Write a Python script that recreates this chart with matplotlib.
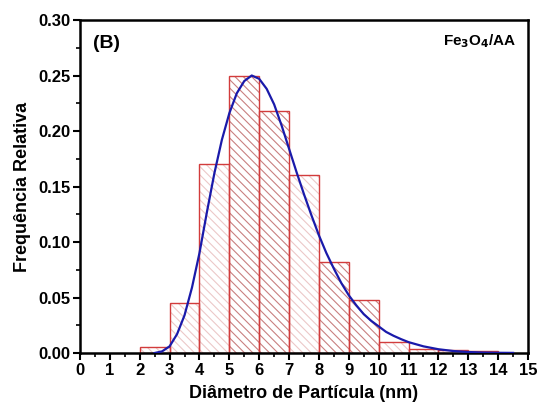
import matplotlib.pyplot as plt

plt.rcParams['font.family'] = ['Liberation Sans', 'DejaVu Sans']
plt.rcParams['font.weight'] = 'bold'

# histogram bins (left edges, width 1 nm) and relative frequencies
bin_left = [2, 3, 4, 5, 6, 7, 8, 9, 10, 11, 12, 13]
freq = [0.005, 0.045, 0.170, 0.250, 0.218, 0.160, 0.082, 0.048, 0.010, 0.004, 0.003, 0.0015]
dense = [False, False, False, True, True, False, True, True, False, False, False, False]

# fitted log-normal curve
fit_x = [2.5, 2.75, 3.0, 3.25, 3.5, 3.75, 4.0, 4.25, 4.5, 4.75, 5.0, 5.25, 5.5, 5.75,
         6.0, 6.25, 6.5, 6.75, 7.0, 7.25, 7.5, 7.75, 8.0, 8.25, 8.5, 8.75, 9.0, 9.25,
         9.5, 9.75, 10.0, 10.25, 10.5, 10.75, 11.0, 11.5, 12.0, 12.5, 13.0, 13.5, 14.0, 14.5]
fit_y = [0.0, 0.0015, 0.006, 0.017, 0.034, 0.059, 0.090, 0.127, 0.162, 0.192, 0.216, 0.234,
         0.245, 0.250, 0.247, 0.238, 0.224, 0.205, 0.184, 0.163, 0.143, 0.124, 0.106, 0.090,
         0.076, 0.063, 0.052, 0.043, 0.035, 0.029, 0.024, 0.019, 0.0155, 0.0125, 0.0098,
         0.0060, 0.0034, 0.0018, 0.0009, 0.0004, 0.0002, 0.0001]

fig = plt.figure(figsize=(5.39, 4.09), dpi=100)
ax = fig.add_axes([0.1484, 0.1369, 0.8312, 0.8142])

plt.rcParams['hatch.linewidth'] = 0.8
for x0, h, d in zip(bin_left, freq, dense):
    hc = '#c98080' if d else '#ecc8c8'
    ax.bar(x0, h, width=1, align='edge', color='white', edgecolor=hc,
           hatch='\\\\\\\\', linewidth=0, zorder=1)
    ax.bar(x0, h, width=1, align='edge', color='none', edgecolor='#d23c3c',
           linewidth=1.0, zorder=2)

ax.plot(fit_x, fit_y, color='#1a1aaa', linewidth=1.6, zorder=3)

ax.set_xlim(0, 15)
ax.set_ylim(0, 0.30)
ax.set_xticks(range(0, 16))
ax.set_xticks([i + 0.5 for i in range(15)], minor=True)
ax.set_yticks([0, 0.05, 0.10, 0.15, 0.20, 0.25, 0.30])
ax.set_yticklabels(['0.00', '0.05', '0.10', '0.15', '0.20', '0.25', '0.30'])
ax.set_yticks([0.025, 0.075, 0.125, 0.175, 0.225, 0.275], minor=True)
ax.tick_params(which='major', direction='out', length=5, width=1.5, labelsize=12, pad=2)
ax.tick_params(which='minor', direction='out', length=3, width=1.2)
for s in ax.spines.values():
    s.set_linewidth(1.8)

ax.set_xlabel('Diâmetro de Partícula (nm)', fontsize=13, fontweight='bold', labelpad=5)
ax.set_ylabel('Frequência Relativa', fontsize=13, fontweight='bold', labelpad=5)

ax.text(0.03, 0.93, '(B)', transform=ax.transAxes, fontsize=14, fontweight='bold',
        va='center', ha='left')
ax.text(0.975, 0.935, r'Fe$_\mathbf{3}$O$_\mathbf{4}$/AA', transform=ax.transAxes,
        fontsize=11, fontweight='bold', va='center', ha='right')

fig.savefig('out.png', dpi=100)
